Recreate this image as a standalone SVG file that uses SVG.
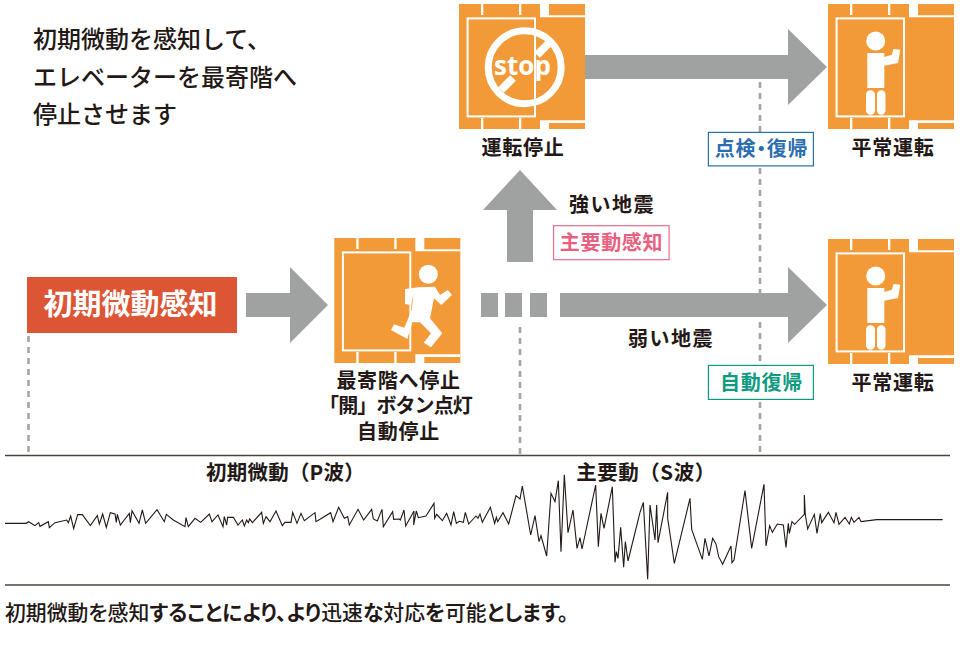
<svg xmlns="http://www.w3.org/2000/svg" width="960" height="658" viewBox="0 0 960 658">
<style>
text{font-family:"Noto Sans CJK JP","Liberation Sans",sans-serif;fill:#231815}
.b{font-weight:700;font-size:20px;letter-spacing:.7px;text-anchor:middle}
.m{font-weight:500;font-size:24px}
.o{fill:#f39a38}.w{fill:#fff}
.ar{fill:#a0a1a1}
.d{stroke:#a5a5a5;stroke-width:2.6;stroke-dasharray:6 5;fill:none}
.wave{fill:none;stroke:#231815;stroke-width:1.1;vector-effect:non-scaling-stroke;stroke-linejoin:miter}
.rule{stroke:#4a4440;stroke-width:1.4}
.tag{fill:#fff;stroke-width:1.2}
.k{font-weight:700}
</style>
<defs>
<g id="lift">
<rect class="o" width="126" height="125"/>
<path class="w" d="M22 0h2.300v11H22zM60 0h2.300v11H60zM81 0h9v11.300h36v2H81zM22 114h2.300v11H22zM60 114h2.300v11H60zM81 116.300h45v2.600H90V125H81z"/>
<rect x="8.600" y="14.400" width="67.400" height="98" fill="none" stroke="#fff" stroke-width="2"/>
</g>
<g id="stand">
<use href="#lift"/>
<circle class="w" cx="47.700" cy="37" r="9.500"/>
<path class="w" d="M39.300 49H56.300V53L64 50.700 65.300 45 72.300 45.700 70 59 56.300 61.700V84H39.300Z"/>
<rect class="w" x="38" y="86.300" width="9" height="24.400" rx="4.500"/>
<rect class="w" x="49" y="86.300" width="8.500" height="24.400" rx="4.200"/>
</g>
</defs>

<g id="connectors">
<path class="d" d="M28.500 336V455M520 327V455M760 82V132M760 168V365M760 402V455"/>
<path id="a1" class="ar" d="M246 293H290V267L328 305 290 343V317H246Z"/>
<path id="a2" class="ar" d="M507 262V210H483L520 170 557 210H533V262Z"/>
<path id="a3" class="ar" d="M585 55H788V29L827 67 788 105V79H585Z"/>
<path id="a4" class="ar" d="M481 293h17v24h-17zM505 293h17v24h-17zM530 293h17v24h-17zM560 293H788V267L827 305 788 343V317H560Z"/>
</g>

<g id="note"><text class="m" x="33" y="48">初期微動を感知して、</text><text class="m" x="33" y="86">エレベーターを最寄階へ</text><text class="m" x="33" y="123">停止させます</text></g>

<g id="n-detect"><rect x="27" y="277" width="210" height="56" fill="#dc5534"/><text class="b" x="130.500" y="315" style="fill:#fff;font-size:29px;letter-spacing:0">初期微動感知</text></g>

<g id="n-escape"><use href="#lift" x="334.300" y="238"/>
<circle class="w" cx="428.300" cy="274.300" r="9.500"/>
<path class="w" d="M405 289 418.300 287.300 435 286.700 440 295 447.700 290 452 295 441.300 305 434 298.300 430 318.300 442.300 333.300 431 347.300 423.700 342.700 431 333.300 420 322.300 412.300 322.300 407.300 339 391 330 394 324.300 404.300 327.700 411.700 310 413.300 295 411 305 405 304Z"/>
<text class="b" x="398.500" y="388">最寄階へ停止</text><text class="b" x="395.500" y="413" style="letter-spacing:-.9px">「開」ボタン点灯</text><text class="b" x="398.500" y="439">自動停止</text></g>

<g id="n-stop"><use href="#lift" x="459" y="4"/>
<circle cx="524.700" cy="67.300" r="36.500" fill="none" stroke="#fff" stroke-width="7"/>
<path d="M501 90 513 78M537 55 549 43" stroke="#fff" stroke-width="8" fill="none"/>
<text x="522.500" y="75" text-anchor="middle" style="font-family:'Open Sans',sans-serif;font-weight:700;font-size:26px;fill:#fff">stop</text>
<text class="b" x="523" y="155">運転停止</text></g>

<g id="n-normal1"><use href="#stand" x="828" y="4"/><text class="b" x="893" y="155">平常運転</text></g>
<g id="n-normal2"><use href="#stand" x="828" y="239"/><text class="b" x="893" y="390">平常運転</text></g>

<g id="l-strong"><text class="b" x="612" y="211.500" style="letter-spacing:1.5px">強い地震</text><rect class="tag" x="553.600" y="225.700" width="115.500" height="34" stroke="#ea6f8b"/><text class="b" x="611.500" y="250" style="fill:#e8607f">主要動感知</text></g>
<g id="l-check"><rect class="tag" x="708.400" y="132.400" width="105" height="33.500" stroke="#2a6db0"/><text class="b" x="761.500" y="156" style="fill:#2a6db0;font-feature-settings:'palt'">点検・復帰</text></g>
<g id="l-weak"><text class="b" x="671" y="345.500" style="letter-spacing:1.5px">弱い地震</text></g>
<g id="l-auto"><rect class="tag" x="708.400" y="365.400" width="105" height="34" stroke="#0d9a7e"/><text class="b" x="761.500" y="390" style="fill:#0d9a7e">自動復帰</text></g>

<g id="seismo">
<line class="rule" x1="5" y1="455.500" x2="950" y2="455.500"/>
<line class="rule" x1="5" y1="585" x2="950" y2="585"/>
<text class="b" x="285.500" y="480" style="font-size:20.500px;letter-spacing:.2px">初期微動（P波）</text>
<text class="b" x="646" y="480" style="font-size:20.500px;letter-spacing:.5px">主要動（S波）</text>
<polyline class="wave" transform="translate(0,470) scale(.33333)" points="15,160 78,160 86,155 105,167 116,158 120,169 145,155 148,173 165,158 200,150 205,158 212,138 221,176 233,134 247,134 271,167 292,137 298,162 308,132 319,172 331,128 345,132 349,157 352,133 361,165 388,130 391,158 396,122 417,160 427,120 437,160 471,119 493,155 499,133 520,150 555,170 558,143 565,170 585,145 602,157 628,132 636,155 654,135 669,170 673,140 680,165 683,142 700,142 714,165 727,150 733,168 740,150 745,158 749,147 757,158 785,127 790,160 798,140 810,155 828,123 847,167 855,157 873,157 878,127 891,160 903,130 913,152 945,128 948,155 960,148"/>
<polyline class="wave" transform="translate(320,470) scale(.33333)" points="0,148 32,128 39,155 56,112 73,145 83,140 88,165 114,118 131,150 155,118 160,147 172,153 186,118 190,170 218,125 221,148 238,147 241,150 252,120 257,168 282,123 281,165 289,123 295,143 318,138 342,100 344,145 350,133 367,152 380,130 393,165 401,125 409,160 418,154 430,157 436,127 446,162 468,138 474,145 480,132 487,157 511,112 524,160 529,142 533,155 549,128 566,162 588,77 600,87 607,48 632,195 645,137 657,215 663,197 680,258 693,70 705,95 715,32 723,245 733,14 744,188 759,120 771,235 780,203 786,237 827,45 835,230 843,130 852,175 877,50 885,277 889,245 894,265 902,172 911,292 916,215 924,273 960,127"/>
<polyline class="wave" transform="translate(640,470) scale(.33333)" points="0,127 10,97 23,328 30,105 45,210 50,105 54,218 83,67 83,145 103,280 150,85 155,178 187,268 195,205 207,258 218,205 228,222 236,260 248,283 273,228 276,278 282,270 315,62 335,235 372,43 378,228 389,167 397,187 412,162 430,165 438,232 445,160 448,190 456,155 464,163 493,133 493,75 496,135 503,177 523,133 531,190 541,131 545,158 565,127 582,158 588,127 597,163 615,142 628,162 634,142 642,157 657,142 663,155 710,149 908,149"/>
<text x="5" y="620" style="font-weight:500;font-size:20.850px;font-feature-settings:'palt'">初期微動を感知<tspan class="k">することにより、より</tspan>迅速<tspan class="k">な</tspan>対応<tspan class="k">を</tspan>可能<tspan class="k">とします。</tspan></text>
</g>
</svg>
